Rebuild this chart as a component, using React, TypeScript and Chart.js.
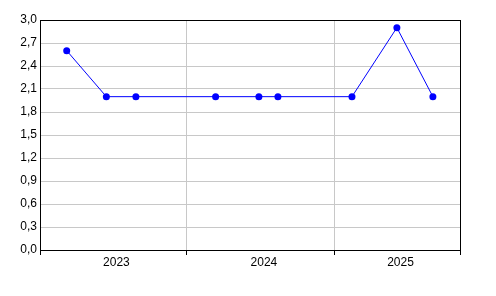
import React, { useEffect, useRef } from "react";
import { Chart, registerables } from "chart.js";

Chart.register(...registerables);

const pointDates = [
  "2023-03-10",
  "2023-06-16",
  "2023-08-28",
  "2024-03-12",
  "2024-06-27",
  "2024-08-13",
  "2025-02-12",
  "2025-06-03",
  "2025-08-31",
];
const pointValues = [2.6, 2.0, 2.0, 2.0, 2.0, 2.0, 2.0, 2.9, 2.0];

const axisStart = "2023-01-03";
const axisEnd = "2025-11-06";
const yearStarts = ["2024-01-01", "2025-01-01"];
const yearLabels = ["2023", "2024", "2025"];

const yMin = 0;
const yMax = 3;
const yStep = 0.3;

const toDay = (s: string) => {
  const [y, m, d] = s.split("-").map(Number);
  return Date.UTC(y, m - 1, d) / 86400000;
};

const FONT = { family: "'Liberation Sans Narrow', 'Liberation Sans', Arial, sans-serif", size: 12 };

export default function App() {
  const ref = useRef<HTMLCanvasElement | null>(null);

  useEffect(() => {
    if (!ref.current) return;
    const xMin = toDay(axisStart);
    const xMax = toDay(axisEnd);
    const bounds = [xMin, ...yearStarts.map(toDay), xMax];
    const labelTicks: { value: number; label: string }[] = [];
    for (let i = 0; i < yearLabels.length; i++) {
      labelTicks.push({ value: (bounds[i] + bounds[i + 1]) / 2, label: yearLabels[i] });
    }
    const boundSet = new Set(bounds);

    const borderPlugin = {
      id: "boxBorder",
      beforeDatasetsDraw(chart: any) {
        const { ctx, chartArea } = chart;
        ctx.save();
        ctx.strokeStyle = "#000";
        ctx.lineWidth = 1;
        ctx.strokeRect(
          Math.round(chartArea.left) + 0.5,
          Math.round(chartArea.top) + 0.5,
          Math.round(chartArea.right - chartArea.left),
          Math.round(chartArea.bottom - chartArea.top)
        );
        ctx.restore();
      },
    };

    const chart = new Chart(ref.current, {
      type: "line",
      data: {
        datasets: [
          {
            data: pointDates.map((d, i) => ({ x: toDay(d), y: pointValues[i] })),
            borderColor: "#0000ff",
            backgroundColor: "#0000ff",
            borderWidth: 1,
            pointRadius: 3.5,
            pointBackgroundColor: "#0000ff",
            pointBorderColor: "#0000ff",
            pointBorderWidth: 0,
            tension: 0,
          },
        ],
      },
      options: {
        animation: false,
        responsive: false,
        maintainAspectRatio: false,
        layout: { padding: { left: 0, top: 20, right: 36, bottom: 0 } },
        plugins: { legend: { display: false }, tooltip: { enabled: false } },
        scales: {
          x: {
            type: "linear",
            min: xMin,
            max: xMax,
            afterBuildTicks(scale: any) {
              const t = [
                ...bounds.map((v) => ({ value: v })),
                ...labelTicks.map((l) => ({ value: l.value })),
              ];
              t.sort((a, b) => a.value - b.value);
              scale.ticks = t;
            },
            afterFit(scale: any) {
              scale.height = 46;
            },
            ticks: {
              autoSkip: false,
              maxRotation: 0,
              minRotation: 0,
              color: "#000",
              font: FONT,
              padding: 0,
              labelOffset: 3,
              callback(value: any) {
                const l = labelTicks.find((lt) => Math.abs(lt.value - value) < 1e-6);
                return l ? l.label : "";
              },
            },
            grid: {
              color: (ctx: any) =>
                ctx.tick && boundSet.has(ctx.tick.value) ? "#c8c8c8" : "rgba(0,0,0,0)",
              tickColor: (ctx: any) =>
                ctx.tick && boundSet.has(ctx.tick.value) ? "#000" : "rgba(0,0,0,0)",
              tickLength: 5,
              lineWidth: 1,
            },
            border: { display: true, color: "#000", width: 1 },
          },
          y: {
            min: yMin,
            max: yMax,
            afterFit(scale: any) {
              scale.width = 40;
            },
            ticks: {
              stepSize: yStep,
              color: "#000",
              font: FONT,
              padding: 3,
              callback(value: any) {
                return Number(value).toFixed(1).replace(".", ",");
              },
            },
            grid: {
              color: "#c8c8c8",
              drawTicks: false,
              lineWidth: 1,
            },
            border: { display: true, color: "#000", width: 1 },
          },
        },
      },
      plugins: [borderPlugin],
    } as any);
    return () => chart.destroy();
  }, []);

  return (
    <div style={{ position: "absolute", left: 0, top: 0, width: 496, height: 296, background: "#fff" }}>
      <canvas ref={ref} width={496} height={296} style={{ width: 496, height: 296, display: "block" }} />
    </div>
  );
}
